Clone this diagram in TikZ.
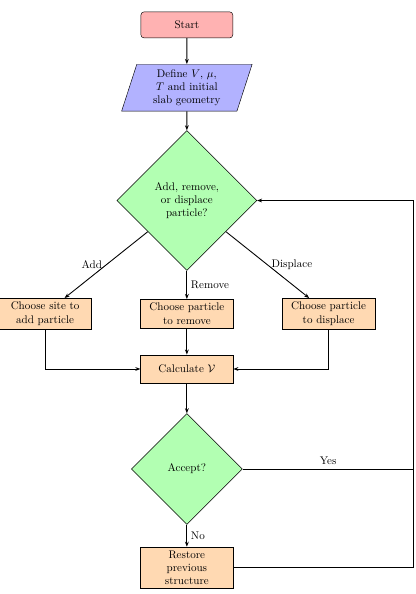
\documentclass[tikz,border=0pt]{standalone}
\usepackage{amsmath,amssymb}
\usepackage{tikz}
\usetikzlibrary{shapes.geometric,arrows.meta,positioning}

\begin{document}
\begin{tikzpicture}[
    startstop/.style={rectangle, rounded corners=3pt, minimum width=2.92cm, minimum height=0.83cm, align=center, draw=black, fill=red!30},
    io/.style={trapezium, trapezium left angle=72, trapezium right angle=108, text width=2.75cm, minimum height=1.49cm, align=center, draw=black, fill=blue!30},
    decision/.style={diamond, aspect=1, minimum width=#1, minimum height=#1, inner sep=0pt, align=center, draw=black, fill=green!30},
    process/.style={rectangle, text width=2.7cm, minimum height=0.9cm, align=center, draw=black, fill=orange!30},
    arr/.style={-{Stealth[length=1.6mm]}, thick},
    line/.style={thick}
  ]
    \useasboundingbox (-5.93,0.79) rectangle (7.27,-18.06);
    \node[startstop] (start) at (0,0) {Start};
    \node[io, below=0.82cm of start] (define) {Define $V$, $\mu$,\\ $T$ and initial\\ slab geometry};
    \node[decision=4.44cm, below=0.6cm of define] (dec) {Add, remove,\\ or displace\\ particle?};
    \node[process, below=0.9cm of dec] (remove) {Choose particle\\ to remove};
    \node[process, left=1.55cm of remove] (add) {Choose site to\\ add particle};
    \node[process, right=1.55cm of remove] (displace) {Choose particle\\ to displace};
    \node[process, below=0.84cm of remove] (calc) {Calculate $\mathcal{V}$};
    \node[decision=3.52cm, below=0.95cm of calc] (accept) {Accept?};
    \node[process, below=0.7cm of accept] (restore) {Restore\\ previous\\ structure};
    \coordinate (loop) at (7.2,0);
    \coordinate (yesturn) at (accept.east -| loop);

    \draw[arr] (start) -- (define);
    \draw[arr] (define) -- (dec);
    \draw[arr] (dec) -- node[left] {Add} (add);
    \draw[arr] (dec) -- node[right] {Remove} (remove);
    \draw[arr] (dec) -- node[right] {Displace} (displace);
    \draw[arr] (add) |- (calc);
    \draw[arr] (remove) -- (calc);
    \draw[arr] (displace) |- (calc);
    \draw[arr] (calc) -- (accept);
    \draw[arr] (accept) -- node[right] {No} (restore);
    \draw[arr] (accept.east) -- node[above] {Yes} (yesturn) |- (dec.east);
    \draw[line] (restore.east) -| (yesturn);
  \end{tikzpicture}
\end{document}
